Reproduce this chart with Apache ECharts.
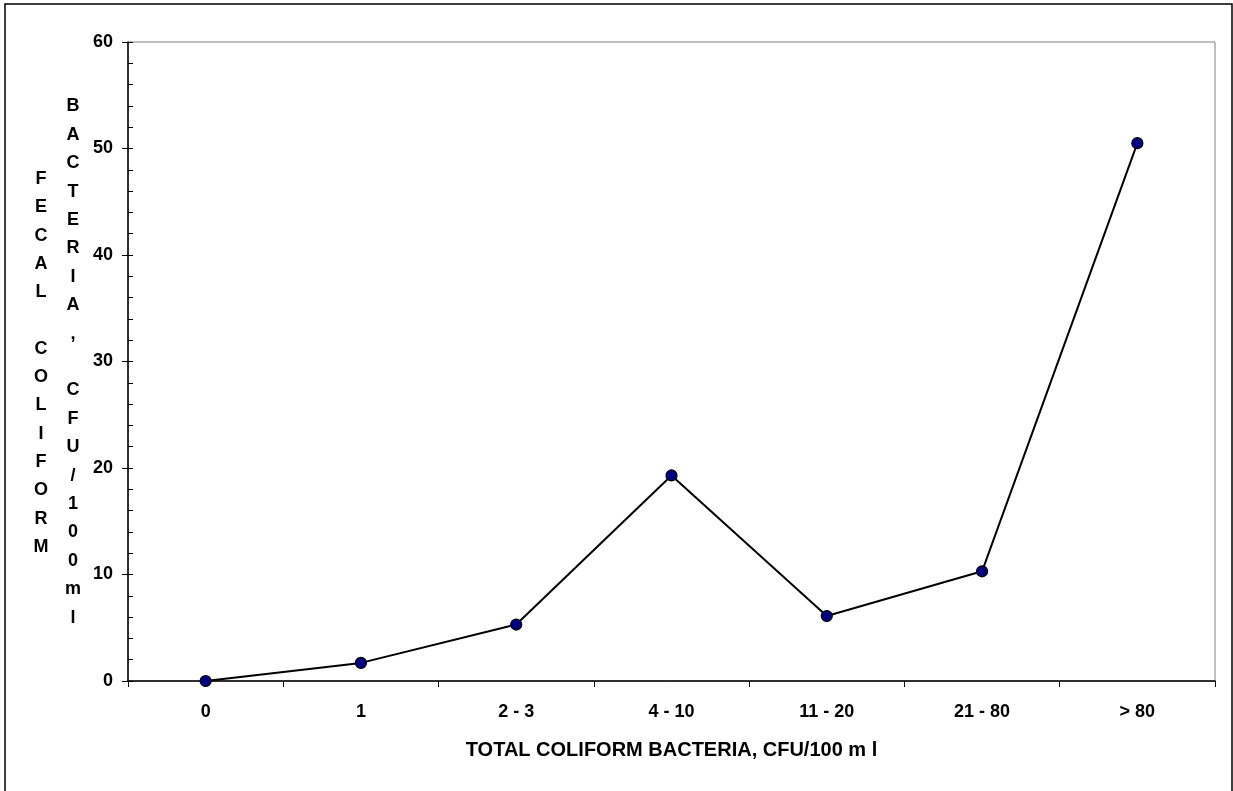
<!DOCTYPE html>
<html>
<head>
<meta charset="utf-8">
<script src="https://cdn.jsdelivr.net/npm/echarts@6/dist/echarts.min.js"></script>
<style>
    html, body { margin: 0; padding: 0; background: #fff; }
    #chart { width: 1233px; height: 791px; }
</style>
</head>
<body>
<div id="chart"></div>
<script>
// categories and values
var categories = ["0", "1", "2 - 3", "4 - 10", "11 - 20", "21 - 80", "> 80"];
var fecalValues = [0, 1.7, 5.3, 19.3, 6.1, 10.3, 50.5];
var yTicks = { min: 0, max: 60, interval: 10 };

var xTitle = "TOTAL COLIFORM BACTERIA, CFU/100 m l";
var yTitleCol1 = "FECAL COLIFORM";
var yTitleCol2 = "BACTERIA, CFU/100ml";

// one letter per line, like the original stacked axis title
function stack(s) {
    return s.split("").join("\n");
}

var font = "'Liberation Sans', Arial, sans-serif";
var chart = echarts.init(document.getElementById("chart"));

var option = {
    backgroundColor: "#fff",
    animation: false,
    textStyle: { fontFamily: font },
    grid: {
        left: 128, top: 42, right: 18, bottom: 110,
        show: true, borderColor: "#808080", borderWidth: 1,
        containLabel: false, outerBoundsMode: "none"
    },
    graphic: [
        {
            type: "rect", silent: true,
            shape: { x: 5, y: 4, width: 1227, height: 800 },
            style: { fill: "none", stroke: "#000", lineWidth: 1.5 }
        },
        {
            type: "text", silent: true, x: 41, y: 363,
            style: {
                text: stack(yTitleCol1), fill: "#000",
                fontSize: 18, fontWeight: "bold", fontFamily: font,
                lineHeight: 28.3, align: "center", verticalAlign: "middle"
            }
        },
        {
            type: "text", silent: true, x: 73, y: 362,
            style: {
                text: stack(yTitleCol2), fill: "#000",
                fontSize: 18, fontWeight: "bold", fontFamily: font,
                lineHeight: 28.4, align: "center", verticalAlign: "middle"
            }
        }
    ],
    xAxis: {
        type: "category",
        data: categories,
        boundaryGap: true,
        name: xTitle,
        nameLocation: "middle",
        nameGap: 59,
        nameTextStyle: { color: "#000", fontWeight: "bold", fontSize: 20, fontFamily: font },
        axisLine: { lineStyle: { color: "#000", width: 1.5 } },
        axisTick: { show: true, alignWithLabel: false, length: 6, lineStyle: { color: "#000" } },
        axisLabel: { color: "#000", fontWeight: "bold", fontSize: 18, margin: 22, fontFamily: font },
        splitLine: { show: false }
    },
    yAxis: [
        {
            type: "value",
            min: yTicks.min, max: yTicks.max, interval: yTicks.interval,
            axisLine: { show: true, lineStyle: { color: "#000", width: 1.5 } },
            axisTick: { show: true, length: 6, lineStyle: { color: "#000" } },
            axisLabel: { color: "#000", fontWeight: "bold", fontSize: 18, margin: 15, fontFamily: font },
            splitLine: { show: false }
        },
        {
            // inner minor ticks every 2 units
            type: "value", position: "left",
            min: yTicks.min, max: yTicks.max, interval: 2,
            axisLine: { show: false },
            axisTick: { show: true, inside: true, length: 5, lineStyle: { color: "#000" } },
            axisLabel: { show: false },
            splitLine: { show: false }
        }
    ],
    series: [
        {
            type: "line",
            data: fecalValues,
            yAxisIndex: 0,
            symbol: "circle",
            symbolSize: 11,
            lineStyle: { color: "#000", width: 2 },
            itemStyle: { color: "#000080", borderColor: "#000", borderWidth: 1.2 },
            z: 5
        }
    ]
};

chart.setOption(option);
</script>
</body>
</html>
